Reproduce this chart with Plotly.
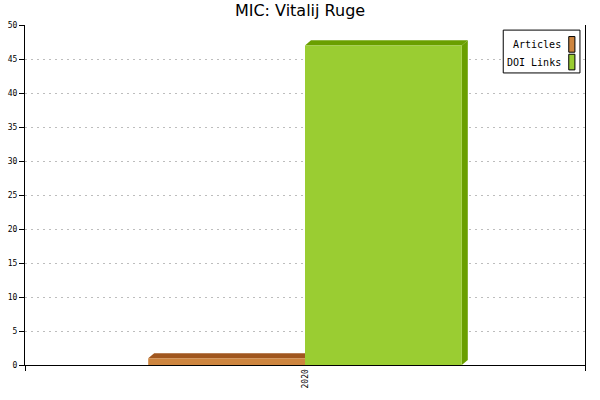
import plotly.graph_objects as go

years = ["2020"]
series_names = ["Articles", "DOI Links"]
articles = [1]
doi_links = [47]
y_ticks = [0, 5, 10, 15, 20, 25, 30, 35, 40, 45, 50]

face_colors = ["#CD853F", "#9ACD32"]
side_colors = ["#A0561E", "#6A9F00"]

bar_w = 0.28
offsets = [-bar_w, 0.0]
depth_x = 0.0107  # ~6px
depth_y = 0.74    # ~5px

fig = go.Figure()
for name, vals, col, off in zip(series_names, [articles, doi_links], face_colors, offsets):
    fig.add_trace(go.Bar(
        x=years, y=vals, name=name, width=bar_w, offset=off,
        marker=dict(color=col, line=dict(width=0)), showlegend=False,
    ))

# fake 3d: top and right side of each bar
for vals, col, off in zip([articles, doi_links], side_colors, offsets):
    for i, v in enumerate(vals):
        x0 = i + off
        x1 = x0 + bar_w
        top = (f"M {x0},{v} L {x0 + depth_x},{v + depth_y} "
               f"L {x1 + depth_x},{v + depth_y} L {x1},{v} Z")
        side = (f"M {x1},{v} L {x1 + depth_x},{v + depth_y} "
                f"L {x1 + depth_x},{depth_y} L {x1},0 Z")
        for p in (top, side):
            fig.add_shape(type="path", path=p, xref="x", yref="y",
                          fillcolor=col, line=dict(width=0), layer="between")

# legend box, swatches on the right like the original
fig.add_shape(type="rect", xref="paper", yref="paper",
              x0=0.854, x1=0.991, y0=0.859, y1=0.985,
              line=dict(color="black", width=1), fillcolor="white")
for k, (name, col) in enumerate(zip(series_names, face_colors)):
    yc = 0.943 - k * 0.052
    fig.add_annotation(x=0.960, y=yc, xref="paper", yref="paper", text=name,
                       showarrow=False, xanchor="right", yanchor="middle",
                       font=dict(family="DejaVu Sans Mono", size=10, color="black"))
    fig.add_shape(type="rect", xref="paper", yref="paper",
                  x0=0.971, x1=0.982, y0=yc - 0.023, y1=yc + 0.023,
                  fillcolor=col, line=dict(color="black", width=1))

fig.update_layout(
    width=600, height=400,
    margin=dict(l=25, r=15, t=25, b=35),
    paper_bgcolor="white", plot_bgcolor="white",
    title=dict(text="MIC: Vitalij Ruge", x=0.5, xanchor="center", y=0.974, yanchor="middle",
               font=dict(family="DejaVu Sans", size=16, color="black")),
    barmode="group",
    xaxis=dict(type="category", range=[-0.5, 0.5], tickson="boundaries",
               ticks="outside", ticklen=5, tickcolor="black", automargin=False,
               showline=True, linecolor="black", linewidth=1,
               showgrid=False, tickangle=-90,
               tickfont=dict(family="DejaVu Sans Mono", size=8, color="black")),
    yaxis=dict(range=[0, 50], tickvals=y_ticks, ticks="outside", ticklen=5,
               tickcolor="black", showline=True, linecolor="black", linewidth=1,
               mirror=True, showgrid=True, gridcolor="#bdbdbd", griddash="2px,4px",
               zeroline=False, automargin=False,
               tickfont=dict(family="DejaVu Sans Mono", size=8, color="black")),
)

# page body has an 8px default margin, drop it so the chart sits at 0,0
fig.write_html("out.html", config={"displayModeBar": False},
               post_script="document.body.style.margin='0';")
